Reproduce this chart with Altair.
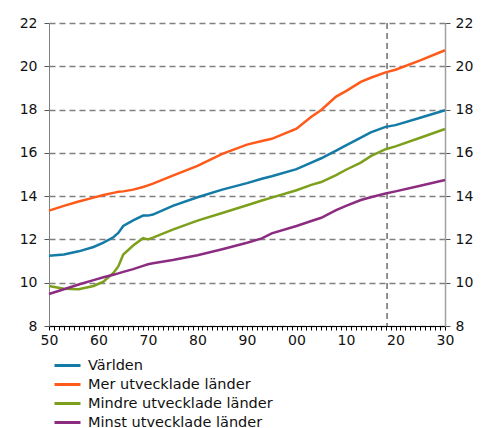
import altair as alt
import pandas as pd

years = [1950, 1953, 1956, 1959, 1961, 1963, 1964, 1965, 1967, 1969, 1970, 1971,
         1975, 1980, 1985, 1990, 1993, 1995, 2000, 2003, 2005, 2008, 2010, 2013,
         2015, 2018, 2020, 2025, 2030]

varlden = [11.25, 11.3, 11.45, 11.65, 11.85, 12.1, 12.3, 12.62, 12.88, 13.1, 13.1, 13.15,
           13.55, 13.95, 14.3, 14.6, 14.8, 14.92, 15.25, 15.55, 15.75, 16.1, 16.35, 16.7,
           16.95, 17.2, 17.28, 17.62, 17.97]
mer = [13.33, 13.55, 13.75, 13.93, 14.05, 14.15, 14.2, 14.22, 14.3, 14.42, 14.5, 14.58,
       14.95, 15.4, 15.95, 16.38, 16.55, 16.65, 17.12, 17.67, 17.98, 18.6, 18.85, 19.28,
       19.47, 19.72, 19.84, 20.27, 20.74]
mindre = [9.85, 9.72, 9.7, 9.85, 10.05, 10.45, 10.75, 11.3, 11.72, 12.06, 12.0, 12.08,
          12.45, 12.87, 13.22, 13.58, 13.8, 13.93, 14.27, 14.52, 14.65, 14.97, 15.22, 15.55,
          15.85, 16.17, 16.3, 16.7, 17.1]
minst = [9.48, 9.7, 9.92, 10.12, 10.25, 10.37, 10.43, 10.5, 10.63, 10.78, 10.85, 10.9,
         11.05, 11.27, 11.55, 11.85, 12.05, 12.28, 12.62, 12.85, 13.0, 13.35, 13.55, 13.82,
         13.95, 14.12, 14.22, 14.48, 14.75]

names = ["Världen", "Mer utvecklade länder", "Mindre utvecklade länder", "Minst utvecklade länder"]
colors = ["#137BA6", "#FF5A19", "#7CA01C", "#8B2C80"]
series = [varlden, mer, mindre, minst]

marker_year = [2018.3]
x_ticks = list(range(1950, 2031))
y_ticks = [8, 10, 12, 14, 16, 18, 20, 22]

rows = []
for name, vals in zip(names, series):
    for y, v in zip(years, vals):
        rows.append({"year": y, "value": v, "series": name})
df = pd.DataFrame(rows)

FONT = "DejaVu Sans"
x_scale = alt.Scale(domain=[1950, 2030], nice=False, zero=False)

x_axis = alt.Axis(
    title=None, values=x_ticks, grid=False,
    labelExpr="(round(datum.value) % 10 == 0) ? slice(toString(round(datum.value)), 2) : ''",
    labelOverlap=False, labelFlush=False, labelFontSize=14, labelFont=FONT,
    labelColor="#111111", domainColor="#000000", tickColor="#000000",
    tickSize=4, labelPadding=3, domainWidth=1, labelBound=False,
)

rule = alt.Chart(pd.DataFrame({"year": marker_year})).mark_rule(
    color="#777777", strokeDash=[6, 4], strokeWidth=1.6
).encode(x=alt.X("year:Q", scale=x_scale, axis=x_axis))

lines = alt.Chart(df).mark_line(strokeWidth=2.5).encode(
    x=alt.X("year:Q", scale=x_scale, axis=x_axis),
    y=alt.Y(
        "value:Q",
        scale=alt.Scale(domain=[8, 22], nice=False, zero=False),
        axis=alt.Axis(
            title=None, values=y_ticks, orient="left", grid=True,
            gridDash=[6, 4], gridColor="#808080", gridWidth=1.6,
            labelFontSize=14, labelFont=FONT, labelColor="#111111",
            domainColor="#808080", tickColor="#555555", tickSize=5,
            labelPadding=7,
        ),
    ),
    color=alt.Color(
        "series:N",
        sort=names,
        scale=alt.Scale(domain=names, range=colors),
        legend=alt.Legend(
            title=None, orient="none", legendX=4, legendY=334,
            direction="vertical", symbolType="stroke", symbolSize=676,
            symbolStrokeWidth=3, clipHeight=17, rowPadding=2,
            labelFontSize=14.5, labelFont=FONT, labelColor="#111111",
            labelOffset=6, padding=0, labelLimit=400,
        ),
    ),
    detail="series:N",
)

right = alt.Chart(df).mark_line(opacity=0).encode(
    x=alt.X("year:Q", scale=x_scale, axis=x_axis),
    y=alt.Y(
        "value:Q",
        scale=alt.Scale(domain=[8, 22], nice=False, zero=False),
        axis=alt.Axis(
            title=None, values=y_ticks, orient="right", grid=False,
            labelFontSize=14, labelFont=FONT, labelColor="#111111",
            domainColor="#A0A0A0", domainWidth=1.5, tickColor="#555555",
            tickSize=5, labelPadding=5,
        ),
    ),
)

chart = alt.layer(rule, lines, right).resolve_scale(y="independent").properties(
    width=396,
    height=303,
    padding={"left": 49, "top": 23, "right": 39, "bottom": 102},
    autosize=alt.AutoSizeParams(type="none"),
    background="white",
).configure_view(stroke=None)

chart.save("out.html", embed_options={"renderer": "svg", "actions": False})
